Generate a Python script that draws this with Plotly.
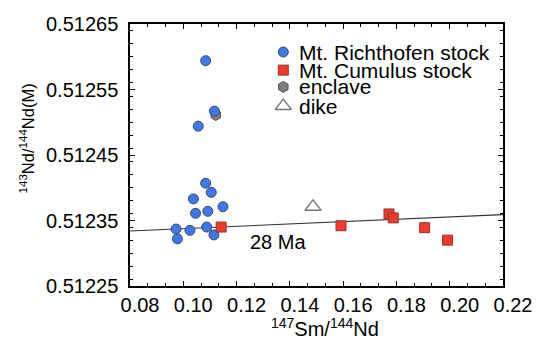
import plotly.graph_objects as go

# ---- data ----
rich_x = [0.1084, 0.1117, 0.1056, 0.1084, 0.1105, 0.1038, 0.1149, 0.1046, 0.1092,
          0.0973, 0.1025, 0.1088, 0.0978, 0.1115]
rich_y = [0.512594, 0.512517, 0.512494, 0.512407, 0.512393, 0.512383, 0.512371, 0.512361,
          0.512364, 0.512337, 0.512335, 0.512340, 0.512322, 0.512328]
cum_x = [0.1142, 0.1592, 0.1772, 0.1788, 0.1906, 0.1992]
cum_y = [0.512340, 0.512342, 0.512360, 0.512354, 0.512339, 0.512320]
encl_x = [0.1122]
encl_y = [0.512511]
dike_x = [0.1487]
dike_y = [0.512371]
iso_x = [0.08, 0.22]
iso_y = [0.512334, 0.512359]
iso_label = "28 Ma"
x_ticks = [0.08, 0.10, 0.12, 0.14, 0.16, 0.18, 0.20, 0.22]
y_ticks = [0.51225, 0.51235, 0.51245, 0.51255, 0.51265]
legend_names = ["Mt. Richthofen stock", "Mt. Cumulus stock", "enclave", "dike"]

FONT = "Liberation Sans, Arial, sans-serif"
BLUE = "#3f78ea"
RED = "#f23a2c"
GRAY = "#7d7d7d"

style_rich = dict(symbol="circle", size=10, color=BLUE, line=dict(color="#3a4a6a", width=1))
style_cum = dict(symbol="square", size=10, color=RED, line=dict(color="#8a3a30", width=1))
style_encl = dict(symbol="hexagon", size=11, color=GRAY, line=dict(color="#555555", width=1))
style_dike = dict(symbol="triangle-up-open", size=14, color="#777777", line=dict(width=1.3))

fig = go.Figure()
fig.add_trace(go.Scatter(x=iso_x, y=iso_y, mode="lines",
                         line=dict(color="#333333", width=1.1), showlegend=False))
fig.add_trace(go.Scatter(x=encl_x, y=encl_y, mode="markers", marker=style_encl, showlegend=False))
fig.add_trace(go.Scatter(x=dike_x, y=dike_y, mode="markers", marker=style_dike, showlegend=False))
fig.add_trace(go.Scatter(x=rich_x, y=rich_y, mode="markers", marker=style_rich, showlegend=False))
fig.add_trace(go.Scatter(x=cum_x, y=cum_y, mode="markers", marker=style_cum, showlegend=False))

# manual legend on an overlay 0-1 axis
leg_sym_x = 0.411
leg_text_x = 0.447
leg_rows = [0.893, 0.824, 0.760, 0.687]
for name, st, yy in zip(legend_names, [style_rich, style_cum, style_encl, style_dike], leg_rows):
    fig.add_trace(go.Scatter(x=[leg_sym_x], y=[yy], mode="markers", marker=st,
                             xaxis="x2", yaxis="y2", showlegend=False, hoverinfo="skip"))
    fig.add_annotation(x=leg_text_x, y=yy, xref="paper", yref="paper", text=name,
                       showarrow=False, xanchor="left", yanchor="middle",
                       font=dict(family=FONT, size=21, color="black"))

fig.add_annotation(x=0.1356, y=0.512317, text=iso_label, showarrow=False,
                   font=dict(family=FONT, size=20, color="black"))

# axis titles
fig.add_annotation(x=0.524, y=-0.16, xref="paper", yref="paper",
                   text="<sup>147</sup>Sm/<sup>144</sup>Nd", showarrow=False,
                   xanchor="center", yanchor="middle", font=dict(family=FONT, size=20, color="black"))
fig.add_annotation(x=-0.275, y=0.565, xref="paper", yref="paper",
                   text="<sup>143</sup>Nd/<sup>144</sup>Nd(M)", showarrow=False, textangle=-90,
                   xanchor="center", yanchor="middle", font=dict(family=FONT, size=16.5, color="black"))

axis_common = dict(showline=True, linecolor="black", linewidth=1.5, mirror="allticks",
                   ticks="inside", tickcolor="black", showgrid=False, zeroline=False,
                   tickfont=dict(family=FONT, size=20, color="black"))

fig.update_layout(
    width=544, height=341,
    margin=dict(l=130, r=36, t=24, b=55),
    paper_bgcolor="white", plot_bgcolor="white",
    showlegend=False,
    xaxis=dict(range=[0.08, 0.22], tickvals=x_ticks,
               ticktext=[f"{v:.2f}" for v in x_ticks], ticklen=5, tickwidth=1,
               ticklabelshift=10, ticklabelstandoff=0,
               minor=dict(dtick=0.02 / 3, ticks="inside", ticklen=3, tickcolor="black", showgrid=False),
               **axis_common),
    yaxis=dict(range=[0.51225, 0.51265], tickvals=y_ticks,
               ticktext=[f"{v:.5f}" for v in y_ticks], ticklen=5, tickwidth=1,
               ticklabelstandoff=6,
               minor=dict(dtick=0.00002, ticks="inside", ticklen=3, tickcolor="black", showgrid=False),
               **axis_common),
    xaxis2=dict(range=[0, 1], overlaying="x", visible=False, fixedrange=True),
    yaxis2=dict(range=[0, 1], overlaying="y", visible=False, fixedrange=True),
)

fig.write_html("out.html")
